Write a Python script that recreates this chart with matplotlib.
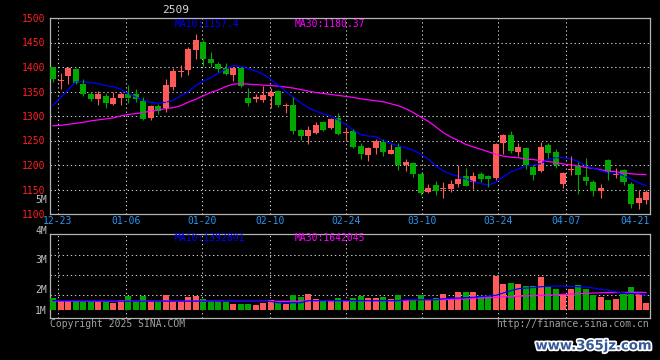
import numpy as np
import matplotlib
matplotlib.use('Agg')
import matplotlib.pyplot as plt
import matplotlib.patheffects as pe

plt.rcParams['font.family'] = ['DejaVu Sans Mono']

# daily candles 12-20 .. 04-22 (80 trading days)
opens = [1399, 1371, 1381, 1396, 1365, 1345, 1334, 1341, 1325, 1337,
         1345, 1344, 1330, 1296, 1321, 1317, 1359, 1389, 1394, 1434,
         1450, 1416, 1407, 1397, 1383, 1398, 1337, 1334, 1332, 1340,
         1351, 1321, 1323, 1271, 1259, 1266, 1287, 1275, 1295, 1266,
         1269, 1239, 1220, 1235, 1247, 1223, 1236, 1200, 1205, 1181,
         1145, 1159, 1152, 1152, 1162, 1177, 1166, 1181, 1177, 1173,
         1245, 1261, 1227, 1235, 1196, 1188, 1241, 1227, 1162, 1190,
         1198, 1175, 1166, 1146, 1211, 1179, 1190, 1162, 1122, 1128]
highs = [1399, 1387, 1400, 1398, 1375, 1349, 1351, 1346, 1349, 1349,
         1363, 1355, 1338, 1322, 1324, 1375, 1397, 1404, 1440, 1467,
         1455, 1431, 1411, 1409, 1400, 1400, 1358, 1344, 1362, 1358,
         1353, 1327, 1339, 1274, 1280, 1287, 1289, 1295, 1306, 1276,
         1273, 1244, 1237, 1254, 1254, 1243, 1244, 1212, 1207, 1184,
         1162, 1167, 1165, 1169, 1199, 1193, 1185, 1185, 1180, 1244,
         1264, 1269, 1245, 1237, 1200, 1246, 1244, 1233, 1186, 1218,
         1207, 1214, 1169, 1161, 1212, 1193, 1191, 1166, 1150, 1150]
lows = [1370, 1356, 1366, 1365, 1341, 1330, 1322, 1317, 1322, 1322,
        1327, 1328, 1292, 1292, 1304, 1309, 1353, 1380, 1383, 1416,
        1402, 1400, 1390, 1383, 1372, 1360, 1321, 1328, 1328, 1316,
        1319, 1306, 1264, 1251, 1243, 1264, 1270, 1274, 1261, 1250,
        1234, 1212, 1209, 1222, 1219, 1223, 1189, 1188, 1176, 1138,
        1142, 1138, 1132, 1145, 1156, 1157, 1151, 1166, 1156, 1169,
        1223, 1225, 1219, 1192, 1169, 1186, 1214, 1193, 1153, 1180,
        1141, 1160, 1137, 1133, 1170, 1174, 1160, 1113, 1110, 1121]
closes = [1375, 1373, 1398, 1367, 1345, 1334, 1345, 1327, 1337, 1344,
          1336, 1334, 1294, 1320, 1310, 1363, 1392, 1391, 1436, 1455,
          1417, 1409, 1396, 1385, 1397, 1361, 1327, 1339, 1343, 1349,
          1322, 1322, 1269, 1259, 1271, 1282, 1271, 1294, 1264, 1268,
          1237, 1222, 1235, 1249, 1227, 1230, 1200, 1207, 1181, 1143,
          1153, 1147, 1154, 1162, 1172, 1158, 1177, 1171, 1171, 1243,
          1261, 1228, 1237, 1200, 1179, 1237, 1225, 1199, 1183, 1192,
          1179, 1167, 1146, 1154, 1185, 1181, 1166, 1120, 1133, 1145]
ma10 = [1322, 1337, 1353, 1370, 1370, 1368, 1366, 1362, 1360, 1355,
        1345, 1339, 1332, 1328, 1326, 1328, 1332, 1341, 1349, 1362,
        1371, 1378, 1387, 1395, 1403, 1401, 1397, 1392, 1385, 1375,
        1363, 1350, 1338, 1327, 1317, 1310, 1304, 1300, 1292, 1283,
        1271, 1262, 1259, 1258, 1249, 1244, 1239, 1235, 1230, 1222,
        1212, 1198, 1188, 1181, 1177, 1171, 1166, 1162, 1159, 1165,
        1176, 1186, 1192, 1198, 1200, 1203, 1212, 1215, 1215, 1212,
        1207, 1198, 1193, 1188, 1184, 1184, 1178, 1171, 1164, 1157.4]
ma30 = [1280, 1281, 1283, 1285, 1287, 1290, 1292, 1294, 1296, 1300,
        1303, 1305, 1307, 1310, 1312, 1315, 1317, 1321, 1328, 1334,
        1341, 1348, 1353, 1360, 1365, 1366, 1365, 1364, 1363, 1362,
        1361, 1359, 1357, 1354, 1351, 1348, 1346, 1344, 1342, 1340,
        1338, 1335, 1333, 1331, 1329, 1325, 1321, 1315, 1307, 1298,
        1289, 1278, 1266, 1257, 1250, 1242, 1237, 1232, 1227, 1222,
        1218, 1216, 1215, 1212, 1211, 1209, 1207, 1205, 1202, 1200,
        1198, 1195, 1193, 1190, 1188, 1186, 1184, 1182, 1181, 1180.37]

# volume in millions of shares
vols = [1.14, 0.83, 0.83, 0.83, 0.77, 0.77, 0.77, 0.77, 0.65, 0.98,
        1.29, 0.83, 1.29, 0.83, 0.77, 1.38, 0.89, 0.83, 1.19, 1.29,
        1.07, 0.83, 0.83, 0.77, 0.62, 0.62, 0.62, 0.52, 0.67, 0.98,
        0.89, 0.62, 1.44, 1.26, 1.53, 1.07, 0.83, 0.83, 1.16, 0.83,
        1.16, 1.35, 1.16, 1.16, 1.26, 1.07, 1.44, 0.95, 0.95, 1.44,
        0.95, 1.16, 1.53, 1.07, 1.72, 1.72, 1.72, 1.35, 1.35, 3.12,
        2.45, 2.54, 2.45, 2.26, 2.26, 3.03, 2.17, 1.99, 1.53, 1.99,
        2.36, 1.99, 1.44, 1.26, 0.98, 1.07, 1.53, 2.17, 1.53, 0.70]
vol_ma10 = [0.89, 0.89, 0.89, 0.89, 0.89, 0.89, 0.89, 0.89, 0.89, 0.85,
            0.85, 0.85, 0.85, 0.85, 0.85, 0.85, 0.85, 0.85, 0.85, 0.85,
            0.85, 0.85, 0.85, 0.83, 0.83, 0.83, 0.83, 0.83, 0.83, 0.83,
            0.70, 0.70, 0.70, 0.70, 0.89, 0.89, 0.89, 0.89, 0.89, 0.89,
            0.89, 0.89, 0.89, 0.89, 0.89, 0.89, 0.89, 0.98, 0.98, 0.98,
            0.98, 0.98, 1.07, 1.10, 1.13, 1.16, 1.20, 1.27, 1.32, 1.38,
            1.60, 1.80, 1.99, 2.05, 2.10, 2.17, 2.20, 2.23, 2.23, 2.20,
            2.17, 2.14, 2.05, 1.92, 1.85, 1.70, 1.60, 1.55, 1.53, 1.39]
vol_ma30 = [0.85, 0.85, 0.85, 0.85, 0.85, 0.85, 0.85, 0.85, 0.85, 0.85,
            0.85, 0.85, 0.85, 0.85, 0.85, 0.85, 0.85, 0.85, 0.85, 0.85,
            0.85, 0.85, 0.85, 0.83, 0.83, 0.83, 0.83, 0.83, 0.83, 0.83,
            0.83, 0.83, 0.83, 0.83, 0.89, 0.89, 0.89, 0.89, 0.89, 0.89,
            0.89, 0.89, 0.89, 0.89, 0.89, 0.89, 0.89, 0.89, 0.98, 0.98,
            0.98, 0.98, 0.98, 1.00, 1.02, 1.05, 1.10, 1.13, 1.16, 1.19,
            1.23, 1.27, 1.30, 1.33, 1.35, 1.38, 1.41, 1.44, 1.47, 1.50,
            1.53, 1.56, 1.59, 1.62, 1.63, 1.64, 1.65, 1.66, 1.66, 1.642]

date_idx = [1, 10, 20, 29, 39, 49, 59, 68]
date_labels = ['12-23', '01-06', '01-20', '02-10', '02-24', '03-10', '03-24', '04-07']
last_label = '04-21'
price_ticks = [1100, 1150, 1200, 1250, 1300, 1350, 1400, 1450, 1500]
vol_grid = [1.44, 3.28, 5.11]
vol_labels = ['5M', '4M', '3M', '2M', '1M']

up_c = '#FF5A5A'
dn_c = '#00A800'
grid_c = '#C8C8C8'
spine_c = '#B4B4B4'
dots = (0, (1.3, 2.6))

W, H = 660, 360


def fx(x):
    return x / W


def fy(y):
    return 1 - y / H


fig = plt.figure(figsize=(6.6, 3.6), dpi=100, facecolor='black')

idx = np.arange(len(closes))
o = np.array(opens)
c = np.array(closes)
cols = np.where(c >= o, up_c, dn_c)

# ---- price panel
rect_p = [fx(50), fy(214), 600 / W, 196 / H]
gk = fig.add_axes(rect_p, zorder=0)
gk.set_facecolor('black')
gk.set_xlim(0, 79)
gk.set_ylim(1100, 1500)
gk.set_yticks(price_ticks)
gk.set_yticklabels([str(p) for p in price_ticks])
gk.tick_params(axis='y', colors='#FF2020', labelsize=7, length=0, pad=3)
gk.set_xticks(date_idx)
gk.set_xticklabels(date_labels)
gk.tick_params(axis='x', colors='#2B95F0', labelsize=7, length=0, pad=1.5)
gk.grid(axis='y', color=grid_c, ls=dots, lw=0.75)
for d in date_idx:
    gk.axvline(d, color=grid_c, ls=dots, lw=0.75)
gk.annotate(last_label, xy=(78, 0), xycoords=gk.get_xaxis_transform(),
            xytext=(-5, -1.5), textcoords='offset points', ha='center', va='top',
            color='#2B95F0', fontsize=7)
for s in gk.spines.values():
    s.set_color(spine_c)
    s.set_linewidth(0.9)

ax = fig.add_axes(rect_p, zorder=1)
ax.set_axis_off()
ax.set_xlim(-0.4, 79.53)
ax.set_ylim(1100, 1500)
ax.plot(idx, ma30, color='#FF00FF', lw=0.9)
ax.plot(idx, ma10, color='#0000FF', lw=0.9)
ax.vlines(idx, lows, highs, colors=cols, lw=0.8)
lo = np.minimum(o, c)
hgt = np.maximum(np.abs(c - o), 1.6)
ax.bar(idx, hgt, bottom=lo, width=0.8, color=cols, lw=0)

# ---- volume panel
rect_v = [fx(50), fy(318), 600 / W, 84 / H]
vg = fig.add_axes(rect_v, zorder=0)
vg.set_facecolor('black')
vg.set_xlim(0, 79)
vg.set_ylim(-0.70, 7.01)
vg.set_xticks([])
vg.set_yticks(vol_grid)
vg.set_yticklabels([])
vg.tick_params(axis='y', length=0)
vg.grid(axis='y', color=grid_c, ls=dots, lw=0.75)
for d in date_idx:
    vg.axvline(d, color=grid_c, ls=dots, lw=0.75)
for s in vg.spines.values():
    s.set_color(spine_c)
    s.set_linewidth(0.9)

vx = fig.add_axes(rect_v, zorder=1)
vx.set_axis_off()
vx.set_xlim(-0.4, 79.53)
vx.set_ylim(-0.70, 7.01)
vx.bar(idx, vols, width=0.8, color=cols, lw=0)
vx.plot(idx, vol_ma30, color='#FF00FF', lw=0.9)
vx.plot(idx, vol_ma10, color='#0000FF', lw=0.9)

# ---- texts
fig.text(fx(175), fy(24), 'MA10:%.1f' % ma10[-1], color='#0000FF', fontsize=7, va='center')
fig.text(fx(295), fy(24), 'MA30:%.2f' % ma30[-1], color='#FF00FF', fontsize=7, va='center')
fig.text(fx(175), fy(238), 'MA10:1392801', color='#0000FF', fontsize=7, va='center')
fig.text(fx(295), fy(238), 'MA30:1642045', color='#FF00FF', fontsize=7, va='center')
fig.text(fx(176), fy(10), '2509', color='#D8D8D8', fontsize=8, ha='center', va='center')

for lab, yy in zip(vol_labels, [200, 231, 260, 290, 311]):
    fig.text(fx(47), fy(yy), lab, color='#C0C0C0', fontsize=7, ha='right', va='center')

fig.text(fx(50), fy(324), 'Copyright 2025 SINA.COM', color='#A0A0A0', fontsize=7, va='center')
fig.text(fx(649), fy(324), 'http://finance.sina.com.cn', color='#A0A0A0', fontsize=7,
         ha='right', va='center')
fig.text(fx(594), fy(346), 'www.365jz.com', color='#34589A', fontsize=9.5, fontweight='bold',
         family='DejaVu Sans', ha='center', va='center',
         path_effects=[pe.withStroke(linewidth=2.5, foreground='white')])

fig.savefig('out.png', dpi=100, facecolor='black')
